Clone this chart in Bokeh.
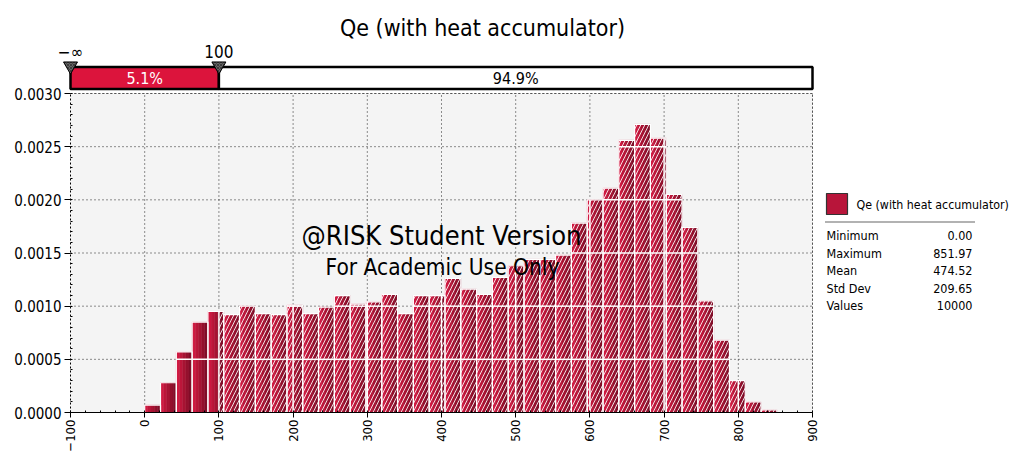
import numpy as np
from math import pi
from bokeh.plotting import figure
from bokeh.models import Range1d, FixedTicker, PrintfTickFormatter
from bokeh.embed import file_html
from bokeh.resources import INLINE
from bokeh.core.properties import value

# ---------------- data ----------------
TITLE = "Qe (with heat accumulator)"
BIN_MIN = 0.0
BIN_MAX = 851.97
N_BINS = 40
density = [0.00007, 0.00028, 0.00057, 0.00085, 0.00095,
           0.00092, 0.00100, 0.00093, 0.00092, 0.00101, 0.00093, 0.00099,
           0.00110, 0.00102, 0.00104, 0.00111, 0.00093, 0.00110, 0.00110,
           0.00126, 0.00116, 0.00111, 0.00127, 0.00138, 0.00144, 0.00144,
           0.00148, 0.00178, 0.00200, 0.00211, 0.00256, 0.00271, 0.00258,
           0.00205, 0.00174, 0.00105, 0.00068, 0.00030, 0.00010, 0.000025]
SPLIT = 100
pct_labels = ["5.1%", "94.9%"]
marker_labels = ["\u2212\u221e", "100"]
x_ticks = [-100, 0, 100, 200, 300, 400, 500, 600, 700, 800, 900]
y_ticks = [0.0, 0.0005, 0.0010, 0.0015, 0.0020, 0.0025, 0.0030]
stat_names = ["Minimum", "Maximum", "Mean", "Std Dev", "Values"]
stat_values = ["0.00", "851.97", "474.52", "209.65", "10000"]
watermark = ["@RISK Student Version", "For Academic Use Only"]

# ---------------- geometry helpers (canvas pixel -> data) ----------------
W, H = 1012, 452
PX0, PXU = 70.0, 0.742           # canvas x of -100, px per unit
PY0, PYU = 412.0, 319.0 / 0.003  # canvas y of 0, px per unit
def X(px):
    return -100 + (px - PX0) / PXU
def Y(py):
    return (PY0 - py) / PYU

FONTNAME = "DejaVu Sans Condensed"
FONT = value(FONTNAME)
RED = "#dc143c"
XMIN, XMAX = x_ticks[0], x_ticks[-1]
YMIN, YMAX = y_ticks[0], y_ticks[-1]

p = figure(width=W, height=H, output_backend="svg", toolbar_location=None,
           x_range=Range1d(X(0), X(W)), y_range=Range1d(Y(H), Y(0)),
           min_border=0, min_border_left=0, min_border_right=0,
           min_border_top=0, min_border_bottom=0)
p.outline_line_color = None
p.background_fill_color = "white"
p.border_fill_color = "white"
p.xgrid.visible = False
p.ygrid.visible = False

# plot-area background
p.quad(left=[XMIN], right=[XMAX], bottom=[YMIN], top=[YMAX],
       fill_color="#f4f4f4", line_color=None)

# dotted grid (under the bars)
gx = np.array(x_ticks[1:], dtype=float)
p.segment(x0=gx, y0=np.full(len(gx), YMIN), x1=gx, y1=np.full(len(gx), YMAX),
          line_color="#222222", line_width=1, line_dash="1 3")
gy = np.array(y_ticks[1:], dtype=float)
p.segment(x0=np.full(len(gy), XMIN), y0=gy, x1=np.full(len(gy), XMAX), y1=gy,
          line_color="#222222", line_width=1, line_dash="1 3")

# ---------------- histogram ----------------
edges = np.linspace(BIN_MIN, BIN_MAX, N_BINS + 1)
lefts, rights = edges[:-1], edges[1:]
dens = np.array(density)

hatch = rights > SPLIT
h_l, h_r, h_t = np.maximum(lefts[hatch], SPLIT), rights[hatch], dens[hatch]

# gradient (light left -> dark right) per bin
shades = ["#d01a42", "#bc163a", "#a81333", "#94102d", "#820d28"]
ns = len(shades)
for k, c in enumerate(shades):
    l = lefts + (rights - lefts) * k / ns
    r = lefts + (rights - lefts) * (k + 1) / ns
    p.quad(left=l, right=r, bottom=np.zeros(N_BINS), top=dens,
           fill_color=c, line_color=c, line_width=0.5)

p.quad(left=h_l, right=h_r, bottom=np.zeros(len(h_t)), top=h_t,
       fill_color=None, line_color=None,
       hatch_pattern="/", hatch_color="white", hatch_weight=1.0,
       hatch_scale=8, hatch_alpha=0.85)

# bin borders
p.quad(left=lefts, right=rights, bottom=np.zeros(N_BINS), top=dens,
       fill_color=None, line_color="white", line_width=1.2)

# white grid lines over the bars
hx0, hx1, hy = [], [], []
for lvl in y_ticks[1:-1]:
    m = dens > lvl
    hx0 += list(lefts[m]); hx1 += list(rights[m]); hy += [lvl] * int(m.sum())
p.segment(x0=hx0, y0=hy, x1=hx1, y1=hy, line_color="white", line_width=1.5)
vx, vt = [], []
for gxv in x_ticks[1:-1]:
    idx = np.searchsorted(edges, gxv) - 1
    if 0 <= idx < N_BINS:
        vx.append(gxv); vt.append(dens[idx])
p.segment(x0=vx, y0=[0] * len(vx), x1=vx, y1=vt, line_color="white", line_width=1.5)

# top/right dotted border
p.segment(x0=[XMIN, XMAX], y0=[YMAX, YMIN], x1=[XMAX, XMAX], y1=[YMAX, YMAX],
          line_color="#555555", line_width=1, line_dash="2 2")

# ---------------- axes (drawn at fixed data locations) ----------------
p.yaxis.fixed_location = XMIN
p.yaxis.ticker = FixedTicker(ticks=y_ticks,
                             minor_ticks=list(np.round(np.arange(0, 0.00301, 0.0001), 5)))
p.yaxis.formatter = PrintfTickFormatter(format="%.4f")
p.yaxis.bounds = (YMIN, YMAX)
p.yaxis.major_tick_in = 0
p.yaxis.major_tick_out = 6
p.yaxis.minor_tick_in = 2
p.yaxis.minor_tick_out = 0
p.yaxis.major_label_standoff = 3
p.yaxis.major_label_text_font = FONTNAME
p.yaxis.major_label_text_font_size = "15px"
p.yaxis.major_label_text_color = "black"
p.yaxis.axis_line_color = "black"
p.yaxis.axis_line_dash = "2 2"

p.xaxis.fixed_location = YMIN
p.xaxis.ticker = FixedTicker(ticks=x_ticks, minor_ticks=list(range(-100, 901, 20)))
p.xaxis.bounds = (XMIN, XMAX)
p.xaxis.major_tick_in = 0
p.xaxis.major_tick_out = 5
p.xaxis.minor_tick_in = 2
p.xaxis.minor_tick_out = 0
p.xaxis.axis_line_color = "black"
p.xaxis.major_label_orientation = pi / 2
p.xaxis.major_label_standoff = 2
p.xaxis.major_label_text_font = FONTNAME
p.xaxis.major_label_text_font_size = "13px"
p.xaxis.major_label_text_color = "black"

# ---------------- title ----------------
p.text(x=[X(482)], y=[Y(27)], text=[TITLE], text_align="center",
       text_baseline="middle", text_font=FONT, text_font_size="23px",
       text_color="black")

# ---------------- percentile bar ----------------
bt, bb = Y(66.5), Y(88.5)
p.quad(left=[XMIN, SPLIT], right=[SPLIT, XMAX], bottom=[bb, bb], top=[bt, bt],
       fill_color=[RED, "white"], line_color="black", line_width=2.5)
p.text(x=[(XMIN + SPLIT) / 2, (SPLIT + XMAX) / 2], y=[(bt + bb) / 2] * 2,
       text=pct_labels, text_align="center", text_baseline="middle",
       text_font=FONT, text_font_size="16px", text_color=["white", "black"])
p.scatter(x=[XMIN, SPLIT], y=[Y(65.5)] * 2, marker="inverted_triangle", size=14,
          fill_color="#666666", line_color="black", line_width=1,
          hatch_pattern="x", hatch_color="#222222", hatch_scale=3, hatch_weight=0.6)
p.text(x=[XMIN, SPLIT], y=[Y(51)] * 2, text=marker_labels, text_align="center",
       text_baseline="middle", text_font=FONT, text_font_size="17px", text_color="black")

# ---------------- watermark ----------------
p.text(x=[X(441), X(442)], y=[Y(235), Y(266)], text=watermark,
       text_align="center", text_baseline="middle", text_font=FONT,
       text_font_size=["27px", "22.5px"], text_color="black")

# ---------------- legend / stats ----------------
p.quad(left=[X(826)], right=[X(847)], bottom=[Y(214)], top=[Y(193)],
       fill_color="#b8153a", line_color="#333333", line_width=1.2)
p.text(x=[X(856)], y=[Y(204)], text=[TITLE], text_align="left",
       text_baseline="middle", text_font=FONT, text_font_size="12.3px",
       text_color="black")
p.segment(x0=[X(825)], y0=[Y(221.5)], x1=[X(975)], y1=[Y(221.5)],
          line_color="#333333", line_width=1.5, line_dash="1 1")
rows_y = [Y(235 + 17.5 * i) for i in range(len(stat_names))]
p.text(x=[X(826)] * len(stat_names), y=rows_y, text=stat_names, text_align="left",
       text_baseline="middle", text_font=FONT, text_font_size="12.5px", text_color="black")
p.text(x=[X(972)] * len(stat_values), y=rows_y, text=stat_values, text_align="right",
       text_baseline="middle", text_font=FONT, text_font_size="12.5px", text_color="black")

open("out.html", "w").write(file_html(p, INLINE))
